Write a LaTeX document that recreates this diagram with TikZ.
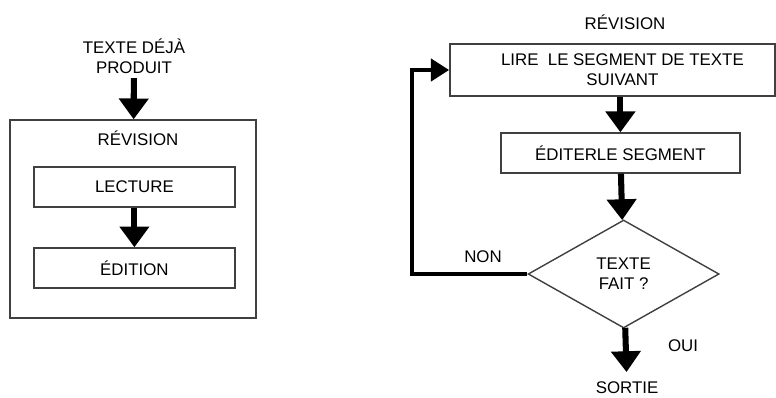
\documentclass[tikz,border=0pt]{standalone}
\usepackage{fontspec}
\setmainfont{Liberation Sans}
\usepackage{tikz}
\usetikzlibrary{shapes.geometric, arrows.meta, positioning, calc}

\begin{document}
\begin{tikzpicture}[
  font=\fontsize{12}{14}\selectfont,
  boite/.style={rectangle, draw=black!75, line width=1pt},
  fleche/.style={line width=4.3pt, -{Triangle[width=0.72cm, length=0.52cm]}},
  retourfl/.style={line width=3.5pt, -{Triangle[width=0.55cm, length=0.46cm]}},
  etiquette/.style={align=center}
]
\useasboundingbox (0,0) rectangle (19.4,-9.925);

% Left: revision as a whole
\node[etiquette] (deja) at (3.35,-1.4) {TEXTE DÉJÀ\\PRODUIT};
\node[boite, minimum width=6.15cm, minimum height=4.95cm] (rev) at (3.325,-5.475) {};
\node (revtitre) at (3.45,-3.45) {RÉVISION};
\node[boite, minimum width=5.025cm, minimum height=1cm] (lecture) at (3.36,-4.675) {LECTURE};
\node[boite, minimum width=5.025cm, minimum height=1cm] (edition) at (3.36,-6.7) {ÉDITION};
\draw[fleche] (deja) -- (rev);
\draw[fleche] (lecture) -- (edition);

% Right: revision loop
\node (titre) at (15.625,-0.55) {RÉVISION};
\node[boite, etiquette, minimum width=8.125cm, minimum height=1.3cm] (lire) at (15.31,-1.75) {\hspace*{0.5cm}LIRE\ \ LE SEGMENT DE TEXTE\\\hspace*{0.5cm}SUIVANT};
\node[boite, minimum width=5.975cm, minimum height=1cm] (editer) at (15.51,-3.825) {ÉDITERLE SEGMENT};
\node[diamond, draw=black!75, line width=1pt, minimum width=4.775cm, minimum height=2.7cm, inner sep=0pt, etiquette] (fait) at (15.59,-6.85) {TEXTE\\FAIT ?};
\node (sortie) at (15.675,-9.68) {SORTIE};
\node (oui) at (17.075,-8.65) {OUI};
\node (non) at (12.075,-6.425) {NON};
\coordinate (retour) at (10.3,-1.75);
\draw[fleche] (lire.south -| editer.north) -- (editer);
\draw[fleche] (editer) -- (fait);
\draw[fleche, shorten >=3pt] (fait) -- (sortie);
\draw[retourfl] (fait.west) -| (retour) -- (lire.west);
\end{tikzpicture}
\end{document}
